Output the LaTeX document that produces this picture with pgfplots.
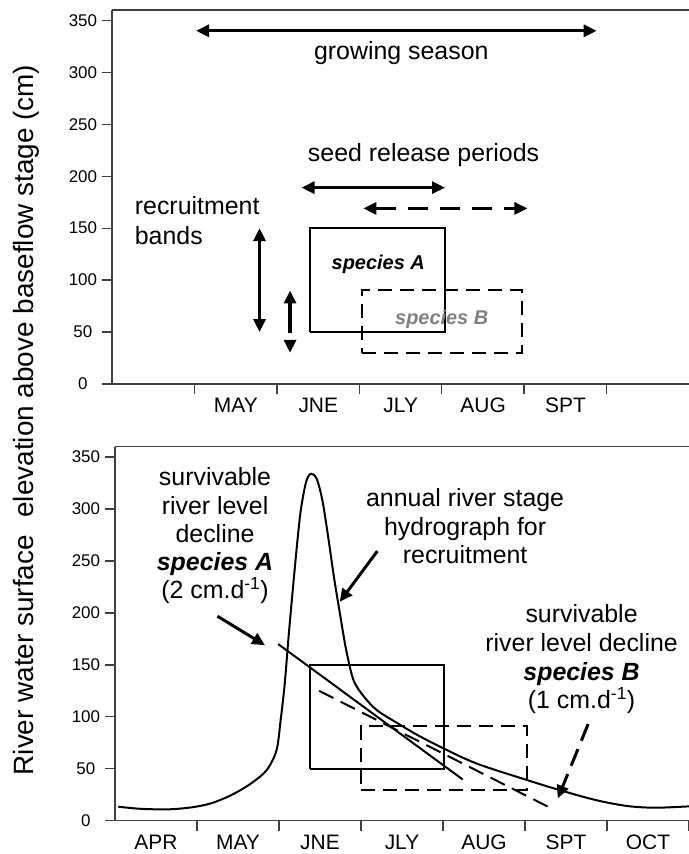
\documentclass[border=0pt]{standalone}
\usepackage{fontspec}
\setmainfont{Liberation Sans}
\usepackage{pgfplots}
\usepackage{pgfplotstable}
\pgfplotsset{compat=1.18}
\usetikzlibrary{arrows.meta}

\pgfplotstableread{
x y
0.04 13.5
0.30 11.5
0.64 10.9
0.93 12.8
1.17 16.7
1.42 24.7
1.66 35.9
1.85 48.7
1.97 67.9
2.02 96.8
2.07 132
2.12 180
2.19 241
2.26 295.5
2.33 326
2.39 334
2.46 329
2.53 308
2.60 273
2.67 234.6
2.75 196
2.82 164
2.91 135
3.04 119
3.20 106
3.45 93.6
3.69 82.4
3.99 70.2
4.41 55
5.03 39
5.40 30
5.86 19.9
6.25 14.1
6.59 12.5
7.00 13.8
}\hydro

\newcommand{\bigtxt}{\fontsize{25}{29}\selectfont}
\tikzset{
  tip/.style={-{Triangle[length=13bp,width=12bp]}},
  tips/.style={{Triangle[length=13bp,width=12bp]}-{Triangle[length=13bp,width=12bp]}},
}

\begin{document}
\begin{tikzpicture}[x=1bp,y=1bp]
\pgfplotsset{
  panel/.style={
    scale only axis, height=374bp, anchor=south west,
    xmin=0, xmax=7, ymin=0, ymax=360,
    axis x line*=bottom, axis y line*=left,
    axis line style={draw=black!75, line width=1.3bp},
    ytick={0,50,...,350},
    tick align=outside, major tick length=10bp,
    tick style={draw=black!75, line width=1.3bp},
    /pgf/number format/assume math mode=true,
    yticklabel style={font=\fontsize{17}{17}\selectfont, inner sep=0pt, text width=28bp, align=center, anchor=east, xshift=-5bp},
    xticklabel style={font=\fontsize{21}{21}\selectfont, xshift=-41bp, anchor=north, text height=15bp, text depth=0pt},
    clip=false,
  }
}

% ---------- top panel ----------
\begin{axis}[panel, at={(112bp,470bp)}, width=577bp,
  xtick={1,...,6}, xticklabels={,MAY,JNE,JLY,AUG,SPT}]
\draw[draw=black!75, line width=1.3bp] (rel axis cs:0,1) -- (rel axis cs:1,1);
\addplot[line width=3bp, tips] coordinates {(1.02,340) (5.88,340)};
\addplot[line width=3bp, tips] coordinates {(2.30,189) (4.04,189)};
\addplot[line width=3bp, tips, dash pattern=on 20bp off 12bp] coordinates {(3.05,169) (5.04,169)};
\addplot[line width=3.5bp, tips] coordinates {(1.79,50) (1.79,150)};
\addplot[line width=3.5bp, tip] coordinates {(2.16,49) (2.16,90)};
\addplot[line width=3.5bp, tip] coordinates {(2.16,42) (2.16,30)};
\addplot[line width=2bp, line join=miter] coordinates {(2.40,50) (4.04,50) (4.04,150) (2.40,150) (2.40,50)};
\addplot[line width=2bp, line join=miter, dash pattern=on 14bp off 8bp] coordinates {(3.03,30) (4.97,30) (4.97,90) (3.03,90) (3.03,30)};
\node[anchor=base, font=\bigtxt] at (axis cs:3.51,312) {growing season};
\node[anchor=base, font=\bigtxt] at (axis cs:3.78,214) {seed release periods};
\node[anchor=base west, font=\bigtxt, inner sep=0pt] at (axis cs:0.275,163) {recruitment};
\node[anchor=base west, font=\bigtxt, inner sep=0pt] at (axis cs:0.275,134.5) {bands};
\node[anchor=base, font=\fontsize{20}{20}\selectfont\bfseries\itshape] at (axis cs:3.23,110) {species A};
\node[anchor=base, font=\fontsize{20}{20}\selectfont\bfseries\itshape, text=black!50] at (axis cs:4.0,57) {species B};
\end{axis}

% ---------- bottom panel ----------
\begin{axis}[panel, at={(115bp,33.3bp)}, width=574bp,
  xtick={1,...,7}, xticklabels={APR,MAY,JNE,JLY,AUG,SPT,OCT}]
\draw[draw=black!75, line width=1.3bp] (rel axis cs:0,1) -- (rel axis cs:1,1);
\addplot[line width=2bp, line join=miter] coordinates {(2.38,50) (4.01,50) (4.01,150) (2.38,150) (2.38,50)};
\addplot[line width=2bp, line join=miter, dash pattern=on 14bp off 8bp] coordinates {(3.0,30) (5.03,30) (5.03,91) (3.0,91) (3.0,30)};
\addplot[line width=2bp, smooth, tension=0.5] table[x=x, y=y] {\hydro};
\addplot[line width=2bp] coordinates {(1.99,170) (4.24,39.7)};
\addplot[line width=2bp, dash pattern=on 16bp off 8bp] coordinates {(2.49,125) (5.36,10.3)};
\addplot[line width=3bp, tip] coordinates {(1.25,196.8) (1.83,168.9)};
\addplot[line width=3bp, tip] coordinates {(3.20,259.6) (2.74,210.6)};
\addplot[line width=3bp, tip, dash pattern=on 18bp off 9bp] coordinates {(5.77,93) (5.40,21.5)};
\node[anchor=base, font=\bigtxt] at (axis cs:1.22,323) {survivable};
\node[anchor=base, font=\bigtxt] at (axis cs:1.22,295) {river level};
\node[anchor=base, font=\bigtxt] at (axis cs:1.22,268) {decline};
\node[anchor=base, font=\bigtxt\bfseries\itshape] at (axis cs:1.22,241) {species A};
\node[anchor=base, font=\bigtxt] at (axis cs:1.22,214) {(2 cm.d\textsuperscript{-1})};
\node[anchor=base, font=\bigtxt] at (axis cs:4.27,302.6) {annual river stage};
\node[anchor=base, font=\bigtxt] at (axis cs:4.27,274.7) {hydrograph for};
\node[anchor=base, font=\bigtxt] at (axis cs:4.27,248) {recruitment};
\node[anchor=base, font=\bigtxt] at (axis cs:5.69,190.4) {survivable};
\node[anchor=base, font=\bigtxt] at (axis cs:5.69,162.5) {river level decline};
\node[anchor=base, font=\bigtxt\bfseries\itshape] at (axis cs:5.69,135.3) {species B};
\node[anchor=base, font=\bigtxt] at (axis cs:5.69,108) {(1 cm.d\textsuperscript{-1})};
\end{axis}

\node[rotate=90, font=\fontsize{28}{28}\selectfont] at (26bp,434bp) {River water surface\hspace{0.35em} elevation above baseflow stage (cm)};

\pgfresetboundingbox
\useasboundingbox (0bp,0bp) rectangle (689bp,854bp);
\end{tikzpicture}
\end{document}
